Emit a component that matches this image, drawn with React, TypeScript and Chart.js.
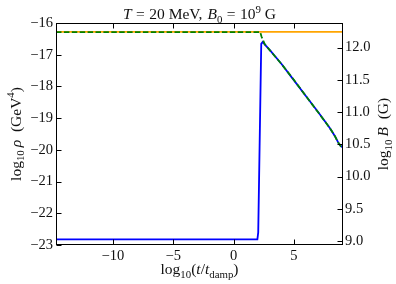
import React, { useEffect, useRef } from "react";
import { Chart, registerables } from "chart.js";
Chart.register(...registerables);

// log10(t/t_damp)
const xMin = -14.72;
const xMax = 9.08;
const xTicks = [-10, -5, 0, 5];
const rhoTicks = [-23, -22, -21, -20, -19, -18, -17, -16];
const bTicks = [9.0, 9.5, 10.0, 10.5, 11.0, 11.5, 12.0];

// blue: log10 rho (left axis)
const blueT = [-14.72, 1.98, 2.05, 2.3, 2.42, 2.6, 3.0, 4.0, 5.0, 6.0, 7.0, 8.0, 8.4, 8.7, 8.9, 9.08];
const blueV = [-22.82, -22.82, -22.6, -16.66, -16.6, -16.68, -16.85, -17.3, -17.8, -18.3, -18.8, -19.32, -19.56, -19.78, -19.88, -19.93];

// orange: flat log10 rho (left axis)
const orangeT = [-14.72, 9.08];
const orangeV = [-16.28, -16.28];

// green dashed: log10 B (right axis)
const greenT = [-14.72, 2.22, 2.32, 2.6, 3.0, 4.0, 5.0, 6.0, 7.0, 8.0, 8.4, 8.7, 8.9, 9.08];
const greenV = [12.24, 12.24, 12.17, 12.05, 11.96, 11.74, 11.5, 11.25, 11.0, 10.75, 10.63, 10.52, 10.47, 10.45];

const FONT = "'Liberation Serif', 'DejaVu Serif', serif";
const FS = 15.5;
const TICK_FS = 14.5;

type Part = [string, string];

function drawRich(ctx: CanvasRenderingContext2D, parts: Part[], x: number, y: number, rot: number) {
  const fontFor = (k: string) => {
    const small = k.startsWith("sub") || k.startsWith("sup");
    const size = small ? FS * 0.7 : FS;
    const ital = k === "i";
    return `${ital ? "italic " : ""}${size}px ${FONT}`;
  };
  let total = 0;
  const widths: number[] = [];
  for (const [t, k] of parts) {
    if (k === "g") { const w = Number(t); widths.push(w); total += w; continue; }
    ctx.font = fontFor(k);
    const w = ctx.measureText(t).width;
    widths.push(w);
    total += w;
  }
  ctx.save();
  ctx.translate(x, y);
  ctx.rotate(rot);
  ctx.fillStyle = "#111";
  ctx.textBaseline = "alphabetic";
  ctx.textAlign = "left";
  let cx = -total / 2;
  parts.forEach(([t, k], i) => {
    if (k !== "g") {
      ctx.font = fontFor(k);
      let dy = 0;
      if (k.startsWith("sub")) dy = FS * 0.24;
      if (k.startsWith("sup")) dy = -FS * 0.4;
      ctx.fillText(t, cx, dy);
    }
    cx += widths[i];
  });
  ctx.restore();
}

const framePlugin = {
  id: "frame",
  afterDraw(chart: any) {
    const ctx = chart.ctx as CanvasRenderingContext2D;
    const a = chart.chartArea;
    const sx = chart.scales.x;
    const sy = chart.scales.y;
    const sy1 = chart.scales.y1;
    const L = Math.round(a.left) + 0.5;
    const R = Math.round(a.right) - 0.5;
    const T = Math.round(a.top) + 0.5;
    const B = Math.round(a.bottom) - 0.5;
    ctx.save();
    ctx.strokeStyle = "#000";
    ctx.lineWidth = 1;
    ctx.strokeRect(L, T, R - L, B - T);
    const tl = 5;
    ctx.beginPath();
    for (const v of xTicks) {
      const p = Math.round(sx.getPixelForValue(v)) + 0.5;
      ctx.moveTo(p, B); ctx.lineTo(p, B - tl);
      ctx.moveTo(p, T); ctx.lineTo(p, T + tl);
    }
    for (const v of rhoTicks) {
      const p = Math.round(sy.getPixelForValue(v)) + 0.5;
      ctx.moveTo(L, p); ctx.lineTo(L + tl, p);
    }
    for (const v of bTicks) {
      const p = Math.round(sy1.getPixelForValue(v)) + 0.5;
      ctx.moveTo(R, p); ctx.lineTo(R - tl, p);
    }
    ctx.stroke();
    ctx.restore();

    const cxm = (a.left + a.right) / 2;
    const cym = (a.top + a.bottom) / 2;
    drawRich(ctx, [["T", "i"], ["4.5", "g"], ["=", "r"], ["4.5", "g"], ["20 MeV,", "r"], ["5", "g"], ["B", "i"], ["0", "sub"], ["4.5", "g"], ["=", "r"], ["4.5", "g"], ["10", "r"], ["9", "sup"], [" G", "r"]], cxm, 19, 0);
    drawRich(ctx, [["log", "r"], ["10", "sub"], ["3", "g"], ["ρ", "i"], ["  (GeV", "r"], ["4", "sup"], [")", "r"]], 20.5, cym, -Math.PI / 2);
    drawRich(ctx, [["log", "r"], ["10", "sub"], ["3", "g"], ["B", "i"], ["  (G)", "r"]], 388, cym, -Math.PI / 2);
    drawRich(ctx, [["log", "r"], ["10", "sub"], ["(", "r"], ["t", "i"], ["/", "r"], ["t", "i"], ["damp", "sub"], [")", "r"]], cxm, 274, 0);
  },
};

const minus = (v: number) => (v < 0 ? "\u2212" + Math.abs(v) : String(v));

export default function App() {
  const ref = useRef<HTMLCanvasElement>(null);
  useEffect(() => {
    const canvas = ref.current!;
    const pts = (xs: number[], ys: number[]) => xs.map((x, i) => ({ x, y: ys[i] }));
    const tickFont = { family: FONT, size: TICK_FS };
    const chart = new Chart(canvas, {
      type: "line",
      data: {
        datasets: [
          { data: pts(blueT, blueV), borderColor: "#0000ff", borderWidth: 1.8, pointRadius: 0, yAxisID: "y", order: 3, tension: 0 },
          { data: pts(orangeT, orangeV), borderColor: "#ffa500", borderWidth: 1.8, pointRadius: 0, yAxisID: "y", order: 2 },
          { data: pts(greenT, greenV), borderColor: "#008000", borderWidth: 1.8, borderDash: [5.5, 2.4], pointRadius: 0, yAxisID: "y1", order: 1 },
        ],
      },
      options: {
        animation: false,
        responsive: false,
        devicePixelRatio: 1,
        layout: { padding: { top: 23, left: 0, right: 0, bottom: 0 } },
        plugins: { legend: { display: false }, tooltip: { enabled: false }, title: { display: false } },
        scales: {
          x: {
            type: "linear",
            min: xMin,
            max: xMax,
            grid: { display: false, drawTicks: false },
            border: { display: false },
            afterBuildTicks: (s: any) => { s.ticks = xTicks.map((v) => ({ value: v })); },
            afterFit: (s: any) => { s.height = 39; },
            ticks: { font: tickFont, color: "#111", padding: 2, maxRotation: 0, callback: (v: any) => minus(Number(v)) },
          },
          y: {
            type: "linear",
            position: "left",
            min: -23,
            max: -16,
            grid: { display: false, drawTicks: false },
            border: { display: false },
            afterBuildTicks: (s: any) => { s.ticks = rhoTicks.map((v) => ({ value: v })); },
            afterFit: (s: any) => { s.width = 56; },
            ticks: { font: tickFont, color: "#111", padding: 3, callback: (v: any) => minus(Number(v)) },
          },
          y1: {
            type: "linear",
            position: "right",
            min: 8.94,
            max: 12.38,
            grid: { display: false, drawTicks: false },
            border: { display: false },
            afterBuildTicks: (s: any) => { s.ticks = bTicks.map((v) => ({ value: v })); },
            afterFit: (s: any) => { s.width = 53; },
            ticks: { font: tickFont, color: "#111", padding: 2, callback: (v: any) => Number(v).toFixed(1) },
          },
        },
      },
      plugins: [framePlugin],
    } as any);
    return () => chart.destroy();
  }, []);
  return (
    <div style={{ position: "fixed", left: 0, top: 0, width: 396, height: 284, background: "#fff" }}>
      <canvas ref={ref} width={396} height={284} style={{ width: 396, height: 284, display: "block" }} />
    </div>
  );
}
